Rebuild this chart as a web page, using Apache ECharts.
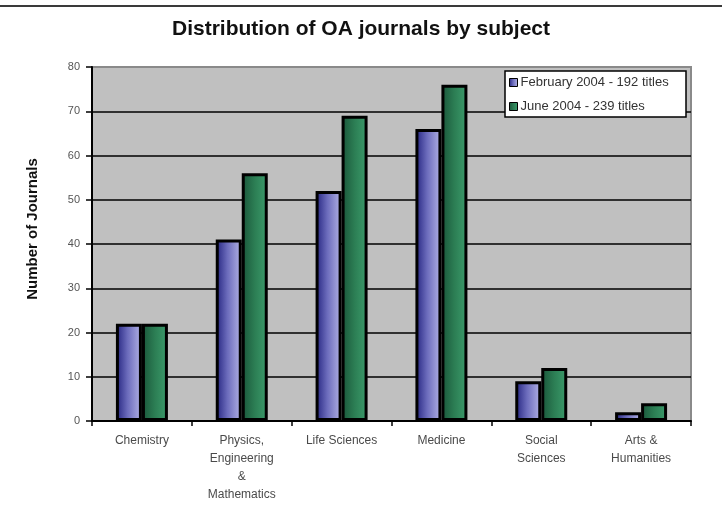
<!DOCTYPE html>
<html>
<head>
<meta charset="utf-8">
<style>
  html, body { margin: 0; padding: 0; background: #fff; }
  #chart { width: 722px; height: 505px; }
</style>
<script src="https://cdn.jsdelivr.net/npm/echarts@6/dist/echarts.min.js"></script>
</head>
<body>
<div id="chart"></div>
<script>
// Open-access journal counts per subject, two snapshots
const subjects = ['Chemistry', 'Physics,\nEngineering\n&\nMathematics', 'Life Sciences', 'Medicine', 'Social\nSciences', 'Arts &\nHumanities'];
const feb2004 = [22, 41, 52, 66, 9, 2];
const jun2004 = [22, 56, 69, 76, 12, 4];
const seriesNames = ['February 2004 - 192 titles', 'June 2004 - 239 titles'];
const yTicks = { min: 0, max: 80, interval: 10 };

const FONT = 'Liberation Sans, Arial, sans-serif';
const chart = echarts.init(document.getElementById('chart'), null, { renderer: 'canvas' });

const blueFill = new echarts.graphic.LinearGradient(0, 0, 1, 0, [
  { offset: 0, color: '#22227e' },
  { offset: 0.45, color: '#6c6cbc' },
  { offset: 1, color: '#b4b4e6' }
]);
const greenFill = new echarts.graphic.LinearGradient(0, 0, 1, 0, [
  { offset: 0, color: '#1a553a' },
  { offset: 0.5, color: '#2c7e54' },
  { offset: 1, color: '#3c9c6c' }
]);

// grid lines: black inside the plot, the top one blends with the grey frame
const splitColors = ['#000', '#000', '#000', '#000', '#000', '#000', '#000', '#000', '#8a8a8a'];

chart.setOption({
  backgroundColor: '#ffffff',
  animation: false,
  title: {
    text: 'Distribution of OA journals by subject',
    left: 'center',
    top: 14,
    textStyle: { fontFamily: FONT, fontSize: 21, fontWeight: 'bold', color: '#111' }
  },
  graphic: [
    { type: 'line', shape: { x1: 0, y1: 6, x2: 722, y2: 6 }, style: { stroke: '#3a3a3a', lineWidth: 2 } },
    { type: 'rect', shape: { x: 505, y: 71, width: 181, height: 46 }, style: { fill: '#fff', stroke: '#000', lineWidth: 1.5 }, z: 10 },
    {
      type: 'text', x: 33, y: 229, rotation: Math.PI / 2,
      style: { text: 'Number of Journals', fontFamily: FONT, fontSize: 15, fontWeight: 'bold', fill: '#111', textAlign: 'center', textVerticalAlign: 'middle' }
    }
  ],
  legend: {
    orient: 'vertical',
    left: 509,
    top: 76,
    padding: 0,
    itemGap: 11,
    itemWidth: 8,
    itemHeight: 8,
    icon: 'rect',
    z: 20,
    itemStyle: { borderColor: '#000', borderWidth: 1 },
    textStyle: { fontFamily: FONT, fontSize: 13, color: '#333', padding: [0, 0, 0, -2] },
    data: seriesNames
  },
  grid: {
    left: 92, right: 31, top: 67, bottom: 84,
    show: true,
    backgroundColor: '#c0c0c0',
    borderColor: '#8a8a8a',
    borderWidth: 2
  },
  xAxis: {
    type: 'category',
    data: subjects,
    axisLine: { lineStyle: { color: '#000', width: 2 } },
    axisTick: { show: true, length: 5, lineStyle: { color: '#000', width: 1.5 } },
    axisLabel: {
      interval: 0,
      margin: 11,
      fontFamily: FONT,
      fontSize: 12,
      lineHeight: 18,
      color: '#4a4a4a'
    }
  },
  yAxis: {
    type: 'value',
    min: yTicks.min,
    max: yTicks.max,
    interval: yTicks.interval,
    axisLine: { show: true, lineStyle: { color: '#000', width: 2 } },
    axisTick: { show: true, length: 6, lineStyle: { color: '#000', width: 1.5 } },
    axisLabel: { margin: 12, fontFamily: FONT, fontSize: 11, color: '#555' },
    splitLine: { show: true, lineStyle: { color: splitColors, width: 1.5 } }
  },
  series: [
    {
      name: seriesNames[0],
      type: 'bar',
      data: feb2004,
      barWidth: 26,
      barGap: '0%',
      itemStyle: { color: blueFill, borderColor: '#000', borderWidth: 3 }
    },
    {
      name: seriesNames[1],
      type: 'bar',
      data: jun2004,
      barWidth: 26,
      barGap: '0%',
      itemStyle: { color: greenFill, borderColor: '#000', borderWidth: 3 }
    }
  ]
});
</script>
</body>
</html>
